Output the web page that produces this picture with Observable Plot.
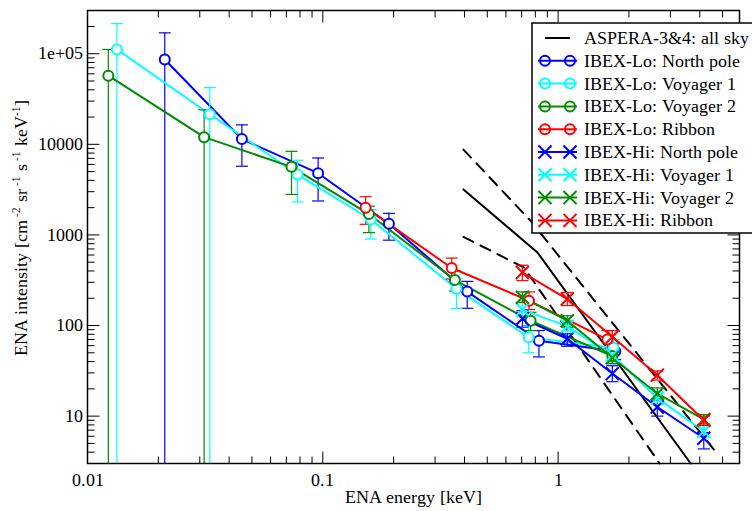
<!DOCTYPE html>
<html>
<head>
<meta charset="utf-8">
<script src="https://cdn.jsdelivr.net/npm/d3@7"></script>
<script src="https://cdn.jsdelivr.net/npm/@observablehq/plot@0.6"></script>
<style>
  @font-face { font-family: "RefSerif"; src: local("Liberation Serif"), local("LiberationSerif"), local("LiberationSerif-Regular"), local("Liberation Serif Regular"), local("DejaVu Serif"), local("DejaVuSerif"); }
  body { margin: 0; background: white; }
  #chart { width: 752px; height: 511px; }
  #chart svg text, #chart svg tspan { font-family: "RefSerif", "Liberation Serif", "DejaVu Serif", serif !important; }
</style>
</head>
<body>
<div id="chart"></div>
<script>
// ---------- Axis ticks ----------
const xTickValues = [0.01, 0.1, 1];
const xTickLabels = ["0.01", "0.1", "1"];
const yTickValues = [10, 100, 1000, 10000, 100000];
const yTickLabels = ["10", "100", "1000", "10000", "1e+05"];
const xDomain = [0.01, 5.9];
const yDomain = [3, 3e5];

// ---------- ASPERA-3&4 (black) ----------
const asperaE = [0.396, 0.817, 3.66];
const asperaI = [3180, 640, 3];
const asperaUpperE = [0.396, 0.764, 4.67];
const asperaUpperI = [8750, 1430, 4.06];
const asperaLowerE = [0.396, 0.716, 2.7];
const asperaLowerI = [950, 437, 3];

// ---------- IBEX-Lo ----------
const loNorthE  = [0.0213, 0.0453, 0.0955, 0.191, 0.411, 0.829, 1.75];
const loNorthI  = [86500, 11430, 4800, 1330, 237, 68, 52];
const loNorthLo = [null, 5730, 2370, 875, 155, 45, 42];
const loNorthHi = [170000, 16400, 7060, 1730, 307, 88, 63];

const loV1E  = [0.01334, 0.0331, 0.0781, 0.16, 0.37, 0.75, 1.72];
const loV1I  = [111500, 21500, 4640, 1480, 255, 74, 57];
const loV1Lo = [null, null, 2310, 900, 154, 50, 46];
const loV1Hi = [215000, 42300, 6670, 1900, 330, 100, 70];

const loV2E  = [0.01226, 0.0313, 0.0736, 0.157, 0.364, 0.764, 1.7];
const loV2I  = [57300, 12000, 5640, 1700, 318, 113, 46];
const loV2Lo = [null, null, 2800, 1060, 240, 88, 38];
const loV2Hi = [111500, 24000, 8370, 2080, 400, 140, 55];

const loRibE  = [0.152, 0.353, 0.752, 1.62];
const loRibI  = [2000, 431, 188, 70];
const loRibLo = [1310, 326, 150, 55];
const loRibHi = [2640, 555, 235, 88];

// ---------- IBEX-Hi ----------
const hiE = [0.705, 1.094, 1.70, 2.64, 4.16];
const hiNorthI  = [119, 71.5, 29.5, 12.6, 5.7];
const hiNorthLo = [96, 59, 24, 10, 4.35];
const hiNorthHi = [146, 81, 36, 15, 6.6];
const hiV1I  = [150, 98, 47, 15.8, 6.8];
const hiV1Lo = [125, 85, 40, 13.5, 5.9];
const hiV1Hi = [180, 112, 55, 18.5, 7.8];
const hiV2I  = [205, 113, 44, 17.7, 9.2];
const hiV2Lo = [180, 96, 38, 15.5, 8.2];
const hiV2Hi = [235, 128, 51, 20.5, 10.4];
const hiRibI  = [385, 196, 75, 28.3, 9.0];
const hiRibLo = [313, 166, 62, 25, 7.9];
const hiRibHi = [463, 232, 88, 31.5, 10];

// ---------- Legend ----------
const legendNames = [
  "ASPERA-3&4: all sky",
  "IBEX-Lo: North pole", "IBEX-Lo: Voyager 1", "IBEX-Lo: Voyager 2", "IBEX-Lo: Ribbon",
  "IBEX-Hi: North pole", "IBEX-Hi: Voyager 1", "IBEX-Hi: Voyager 2", "IBEX-Hi: Ribbon"
];
const BLUE = "#0000ff", CYAN = "#00ffff", GREEN = "#008b00", RED = "#ff0000";
const legendColors = ["#000000", BLUE, CYAN, GREEN, RED, BLUE, CYAN, GREEN, RED];
const legendKinds = ["line", "circle", "circle", "circle", "circle", "times", "times", "times", "times"];

// ---------- Build ----------
const rowsOf = (E, I, lo, hi) => E.map((e, k) => ({
  e, i: I[k],
  lo: lo ? lo[k] : null,
  hi: hi ? hi[k] : null
}));

const ibex = [
  {rows: rowsOf(loNorthE, loNorthI, loNorthLo, loNorthHi), color: BLUE, symbol: "circle"},
  {rows: rowsOf(loV1E, loV1I, loV1Lo, loV1Hi), color: CYAN, symbol: "circle"},
  {rows: rowsOf(loV2E, loV2I, loV2Lo, loV2Hi), color: GREEN, symbol: "circle"},
  {rows: rowsOf(loRibE, loRibI, loRibLo, loRibHi), color: RED, symbol: "circle"},
  {rows: rowsOf(hiE, hiNorthI, hiNorthLo, hiNorthHi), color: BLUE, symbol: "times"},
  {rows: rowsOf(hiE, hiV1I, hiV1Lo, hiV1Hi), color: CYAN, symbol: "times"},
  {rows: rowsOf(hiE, hiV2I, hiV2Lo, hiV2Hi), color: GREEN, symbol: "times"},
  {rows: rowsOf(hiE, hiRibI, hiRibLo, hiRibHi), color: RED, symbol: "times"}
];

const capSym = {draw(ctx) { ctx.moveTo(-6, 0); ctx.lineTo(6, 0); }};
const tickSym = (dx, dy) => ({draw(ctx) { ctx.moveTo(0, 0); ctx.lineTo(dx, dy); }});

// minor tick positions (axis decoration)
function minorTicks(domain) {
  const out = [];
  const d0 = Math.floor(Math.log10(domain[0])), d1 = Math.ceil(Math.log10(domain[1]));
  for (let d = d0; d <= d1; d++) for (let m = 2; m <= 9; m++) {
    const v = m * Math.pow(10, d);
    if (v > domain[0] * 1.0001 && v < domain[1] * 0.9999) out.push(v);
  }
  return out;
}
const xMinor = minorTicks(xDomain);
const yMinor = minorTicks(yDomain);

const MAJ = 12, MIN = 7;
const tk = {stroke: "black", fill: "none", strokeWidth: 1};
const xMajorIn = xTickValues.filter(v => v > xDomain[0]);
const tickMarks = [
  Plot.dot(xMajorIn, {x: d => d, frameAnchor: "bottom", symbol: tickSym(0, -MAJ), ...tk}),
  Plot.dot(xMinor, {x: d => d, frameAnchor: "bottom", symbol: tickSym(0, -MIN), ...tk}),
  Plot.dot(xMajorIn, {x: d => d, frameAnchor: "top", symbol: tickSym(0, MAJ), ...tk}),
  Plot.dot(xMinor, {x: d => d, frameAnchor: "top", symbol: tickSym(0, MIN), ...tk}),
  Plot.dot(yTickValues, {y: d => d, frameAnchor: "left", symbol: tickSym(MAJ, 0), ...tk}),
  Plot.dot(yMinor, {y: d => d, frameAnchor: "left", symbol: tickSym(MIN, 0), ...tk}),
  Plot.dot(yTickValues, {y: d => d, frameAnchor: "right", symbol: tickSym(-MAJ, 0), ...tk}),
  Plot.dot(yMinor, {y: d => d, frameAnchor: "right", symbol: tickSym(-MIN, 0), ...tk})
];

const marks = [];
marks.push(Plot.line(rowsOf(asperaE, asperaI), {x: "e", y: "i", stroke: "black", strokeWidth: 2}));
marks.push(Plot.line(rowsOf(asperaUpperE, asperaUpperI), {x: "e", y: "i", stroke: "black", strokeWidth: 2, strokeDasharray: "11,8"}));
marks.push(Plot.line(rowsOf(asperaLowerE, asperaLowerI), {x: "e", y: "i", stroke: "black", strokeWidth: 2, strokeDasharray: "11,8"}));

for (const s of ibex) {
  marks.push(Plot.line(s.rows, {x: "e", y: "i", stroke: s.color, strokeWidth: 2}));
  marks.push(Plot.ruleX(s.rows, {x: "e", y1: d => d.lo == null ? yDomain[0] : d.lo, y2: "hi", stroke: s.color, strokeWidth: 1.2}));
  marks.push(Plot.dot(s.rows, {x: "e", y: "hi", symbol: capSym, stroke: s.color, fill: "none", strokeWidth: 1.2}));
  marks.push(Plot.dot(s.rows.filter(d => d.lo != null), {x: "e", y: "lo", symbol: capSym, stroke: s.color, fill: "none", strokeWidth: 1.2}));
}
for (const s of ibex) {
  marks.push(Plot.dot(s.rows, {x: "e", y: "i", symbol: s.symbol, r: s.symbol === "circle" ? 5 : 6, stroke: s.color, fill: s.symbol === "circle" ? "white" : "none", strokeWidth: 2}));
}

const xLabelMap = new Map(xTickValues.map((v, k) => [v, xTickLabels[k]]));
const yLabelMap = new Map(yTickValues.map((v, k) => [v, yTickLabels[k]]));
const font = '"RefSerif", "Liberation Serif", "DejaVu Serif", serif';

const plot = Plot.plot({
  width: 752,
  height: 511,
  marginLeft: 87,
  marginRight: 13,
  marginTop: 10,
  marginBottom: 48,
  style: {fontFamily: font, fontSize: "17.5px", background: "white", color: "black"},
  x: {type: "log", domain: xDomain, ticks: xTickValues, tickFormat: d => xLabelMap.get(d), tickSize: 0, tickPadding: 10, label: null},
  y: {type: "log", domain: yDomain, ticks: yTickValues, tickFormat: d => yLabelMap.get(d), tickSize: 0, tickPadding: 5, label: null},
  marks: [...marks, ...tickMarks, Plot.frame({stroke: "black", strokeWidth: 1.5})]
});

document.getElementById("chart").appendChild(plot);

// ---------- Axis titles & legend ----------
const svg = d3.select(plot);

svg.append("text")
  .attr("x", 413).attr("y", 503)
  .attr("text-anchor", "middle")
  .attr("font-family", font).attr("font-size", 18).attr("fill", "black")
  .text("ENA energy [keV]");

const yl = svg.append("text")
  .attr("transform", "translate(27,228) rotate(-90)")
  .attr("text-anchor", "middle")
  .attr("font-family", font).attr("font-size", 17.5).attr("fill", "black");
const yParts = [["ENA intensity [cm", 0], [" -2", 1], [" sr", 0], [" -1", 1], [" s", 0], [" -1", 1], [" keV", 0], ["-1", 1], ["]", 0]];
let prevSup = 0;
for (const [t, sup] of yParts) {
  const ts = yl.append("tspan").text(t);
  if (sup && !prevSup) ts.attr("dy", -7).attr("font-size", 11);
  else if (!sup && prevSup) ts.attr("dy", 7);
  else if (sup) ts.attr("font-size", 11);
  prevSup = sup;
}

const lg = svg.append("g").attr("font-family", font).attr("font-size", 18).attr("text-anchor", "start");
lg.append("rect").attr("x", 532).attr("y", 23).attr("width", 240).attr("height", 210)
  .attr("fill", "white").attr("stroke", "black").attr("stroke-width", 1.5);
legendNames.forEach((name, k) => {
  const cy = 38 + 22.8 * k;
  const c = legendColors[k];
  if (legendKinds[k] === "line") {
    lg.append("line").attr("x1", 545).attr("x2", 570).attr("y1", cy).attr("y2", cy)
      .attr("stroke", c).attr("stroke-width", 2);
  } else {
    lg.append("line").attr("x1", 538).attr("x2", 577).attr("y1", cy).attr("y2", cy)
      .attr("stroke", c).attr("stroke-width", 2);
    for (const mx of [545, 570]) {
      if (legendKinds[k] === "circle") {
        lg.append("circle").attr("cx", mx).attr("cy", cy).attr("r", 5)
          .attr("fill", "none").attr("stroke", c).attr("stroke-width", 2);
      } else {
        lg.append("path").attr("d", d3.symbol(d3.symbolTimes, Math.PI * 36)())
          .attr("transform", `translate(${mx},${cy})`)
          .attr("fill", "none").attr("stroke", c).attr("stroke-width", 2);
      }
    }
  }
  lg.append("text").attr("x", 584).attr("y", cy + 6).attr("text-anchor", "start").attr("fill", "black").text(name);
});
</script>
</body>
</html>
